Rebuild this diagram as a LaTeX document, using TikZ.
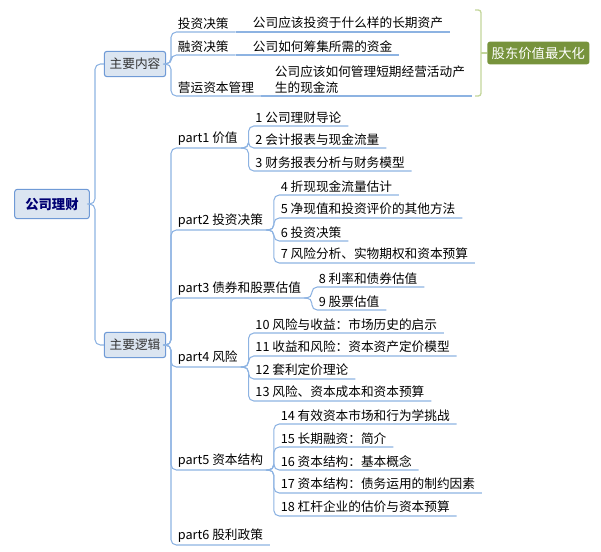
\documentclass[tikz,border=0pt]{standalone}
\usepackage{fontspec}
\setmainfont{Noto Sans CJK SC}
\usetikzlibrary{positioning}
\definecolor{linkblue}{HTML}{8DB3E2}
\definecolor{boxfill}{HTML}{DBE5F1}
\definecolor{boxline}{HTML}{6F9AD6}
\definecolor{goalgreen}{HTML}{77933C}
\definecolor{bracegreen}{HTML}{C3D69B}

\begin{document}
\begin{tikzpicture}[x=0.75pt,y=-0.75pt,font=\fontsize{9.5}{12}\selectfont]
  \tikzstyle{topic}=[draw=boxline,fill=boxfill,rounded corners=2pt,thick,
                     minimum height=19pt,inner xsep=4pt,text=black!80]
  \tikzstyle{leaf}=[anchor=south west,inner xsep=5pt,inner ysep=2pt,align=left]
  \tikzstyle{link}=[draw=linkblue,line width=0.8pt,rounded corners=4pt]
  \useasboundingbox (0,0) rectangle (601,551);

  \node[topic,font=\fontsize{10}{12}\selectfont\bfseries,text=blue!45!black,
        minimum width=56pt,minimum height=22pt] (root) at (52,204) {公司理财};
  \node[topic] (b1) at (135,64) {主要内容};
  \node[topic] (b2) at (135,345) {主要逻辑};
  \draw[link] (root.east) -- (95,204) |- (b1.west);
  \draw[link] (root.east) -- (95,204) |- (b2.west);

  % main contents
  \foreach \name/\y/\text in {k1/32/投资决策, k2/55/融资决策, k3/96/营运资本管理}
    {\node[leaf] (\name) at (171,\y) {\text};
     \draw[link] (b1.east) -- (171,64) |- (\name.south east);}
  \node[leaf] (d1) at (246,32) {公司应该投资于什么样的长期资产};
  \node[leaf] (d2) at (246,55) {公司如何筹集所需的资金};
  \node[leaf] (d3) at (268,96) {公司应该如何管理短期经营活动产\\生的现金流};
  \foreach \i in {1,2,3}
    \draw[link] (k\i.south east) -- (d\i.south east);
  \draw[bracegreen,line width=1pt,rounded corners=2pt] (475,10) -- (481,10) -- (481,96) -- (475,96);
  \node[fill=goalgreen,text=white,rounded corners=2pt,font=\fontsize{10}{12}\selectfont\itshape,
        minimum height=17pt,anchor=west] (goal) at (487,53) {股东价值最大化};
  \draw[bracegreen,line width=1pt] (481,53) -- (goal.west);

  % main logic
  \foreach \name/\y/\text in {p1/148/part1 价值, p2/230/part2 投资决策, p3/298/part3 债券和股票估值,
                              p4/367/part4 风险, p5/470/part5 资本结构, p6/545/part6 股利政策}
    {\node[leaf] (\name) at (171,\y) {\text};
     \draw[link] (b2.east) -- (171,345) |- (\name.south east);}

  \foreach \p/\name/\y/\text in {p1/c1/126/1 公司理财导论, p1/c2/148/2 会计报表与现金流量,
                                 p1/c3/171/3 财务报表分析与财务模型,
                                 p2/c4/195/4 折现现金流量估计, p2/c5/218/5 净现值和投资评价的其他方法,
                                 p2/c6/241/6 投资决策, p2/c7/263/7 风险分析、实物期权和资本预算,
                                 p3/c8/287/8 利率和债券估值, p3/c9/310/9 股票估值,
                                 p4/c10/333/10 风险与收益：市场历史的启示,
                                 p4/c11/356/11 收益和风险：资本资产定价模型,
                                 p4/c12/379/12 套利定价理论, p4/c13/401/13 风险、资本成本和资本预算,
                                 p5/c14/424/14 有效资本市场和行为学挑战, p5/c15/447/15 长期融资：简介,
                                 p5/c16/470/16 资本结构：基本概念,
                                 p5/c17/493/17 资本结构：债务运用的制约因素,
                                 p5/c18/516/18 杠杆企业的估价与资本预算}
    {\path (\p.south east) ++(4,0) coordinate (\name-b);
     \node[leaf] (\name) at (\name-b |- 0,\y) {\text};
     \draw[link] (\p.south east) -- (\name-b) |- (\name.south east);}
\end{tikzpicture}
\end{document}
